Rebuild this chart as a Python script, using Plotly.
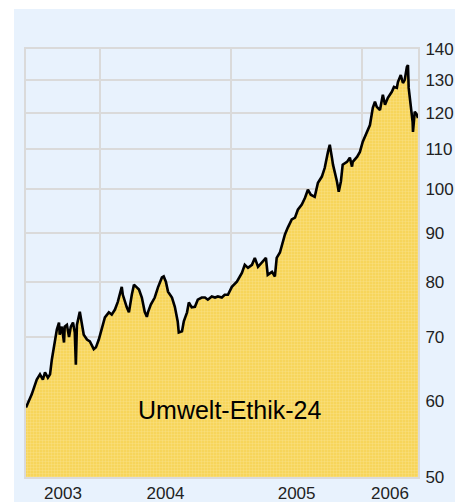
import math
import pandas as pd
import plotly.graph_objects as go

dates = [
    "2003-06-09", "2003-06-17", "2003-06-25", "2003-07-09", "2003-07-18", "2003-07-26",
    "2003-08-01", "2003-08-09", "2003-08-15", "2003-08-20", "2003-08-26", "2003-09-03",
    "2003-09-09", "2003-09-11", "2003-09-17", "2003-09-23", "2003-09-25", "2003-10-01",
    "2003-10-07", "2003-10-12", "2003-10-18", "2003-10-23", "2003-10-26", "2003-10-29",
    "2003-11-06", "2003-11-12", "2003-11-17", "2003-11-26", "2003-12-04", "2003-12-15",
    "2003-12-21", "2003-12-29", "2004-01-07", "2004-01-15", "2004-01-26", "2004-02-03",
    "2004-02-12", "2004-02-20", "2004-03-02", "2004-03-05", "2004-03-16", "2004-03-22",
    "2004-03-30", "2004-04-05", "2004-04-13", "2004-04-19", "2004-04-27", "2004-05-05",
    "2004-05-11", "2004-05-14", "2004-05-22", "2004-06-02", "2004-06-11", "2004-06-22",
    "2004-06-27", "2004-07-03", "2004-07-09", "2004-07-20", "2004-07-28", "2004-08-05",
    "2004-08-08", "2004-08-17", "2004-08-22", "2004-08-31", "2004-09-05", "2004-09-13",
    "2004-09-22", "2004-09-30", "2004-10-11", "2004-10-20", "2004-10-28", "2004-11-08",
    "2004-11-17", "2004-11-25", "2004-12-06", "2004-12-14", "2004-12-23", "2005-01-03",
    "2005-01-17", "2005-01-31", "2005-02-08", "2005-02-17", "2005-02-28", "2005-03-08",
    "2005-03-17", "2005-03-28", "2005-04-08", "2005-04-13", "2005-04-25", "2005-05-03",
    "2005-05-08", "2005-05-17", "2005-05-25", "2005-05-31", "2005-06-08", "2005-06-19",
    "2005-06-28", "2005-07-06", "2005-07-17", "2005-07-26", "2005-08-03", "2005-08-11",
    "2005-08-22", "2005-08-31", "2005-09-11", "2005-09-19", "2005-09-28", "2005-10-03",
    "2005-10-09", "2005-10-12", "2005-10-23", "2005-10-28", "2005-11-03", "2005-11-08",
    "2005-11-20", "2005-11-28", "2005-12-04", "2005-12-06", "2005-12-18", "2005-12-26",
    "2006-01-03", "2006-01-14", "2006-01-23", "2006-01-31", "2006-02-06", "2006-02-11",
    "2006-02-20", "2006-02-28", "2006-03-06", "2006-03-14", "2006-03-25", "2006-03-31",
    "2006-04-08", "2006-04-11", "2006-04-19", "2006-04-25", "2006-04-30", "2006-05-06",
    "2006-05-09", "2006-05-11", "2006-05-17", "2006-05-22", "2006-05-23", "2006-05-28",
    "2006-06-03", "2006-06-06",
]

values = [
    59.1, 60.0, 61.0, 63.2, 64.0, 63.2,
    64.3, 63.5, 64.0, 66.3, 68.5, 71.3,
    72.5, 70.4, 71.8, 69.1, 71.8, 72.1,
    70.0, 71.8, 72.5, 70.8, 65.5, 72.1,
    74.4, 72.5, 70.4, 69.6, 69.3, 68.0,
    68.3, 69.6, 71.8, 73.4, 74.3, 73.9,
    74.8, 76.2, 79.0, 77.5, 75.2, 74.3,
    77.5, 79.4, 78.9, 78.5, 77.0, 74.4,
    73.5, 74.3, 75.7, 77.0, 78.9, 80.8,
    81.0, 80.0, 78.1, 77.0, 75.3, 72.7,
    70.8, 71.0, 72.7, 74.3, 76.1, 75.2,
    75.3, 76.6, 77.0, 77.0, 76.6, 77.2,
    77.0, 77.2, 77.0, 77.5, 77.5, 79.0,
    80.0, 81.7, 83.3, 82.7, 83.3, 84.7,
    82.9, 83.7, 84.7, 81.3, 81.9, 81.0,
    84.7, 85.8, 87.9, 89.6, 91.1, 92.9,
    93.3, 95.1, 96.3, 97.9, 99.8, 98.6,
    98.1, 101.5, 103.0, 105.2, 109.3, 111.2,
    107.8, 106.0, 101.8, 99.3, 101.8, 106.0,
    106.7, 107.8, 105.5, 106.7, 108.0, 109.3,
    112.0, 114.7, 116.6, 121.5, 123.3, 121.8,
    120.9, 125.4, 122.4, 124.5, 126.3, 127.8,
    127.5, 129.3, 131.5, 129.0, 130.0, 134.1,
    134.7, 127.5, 122.4, 117.5, 114.7, 120.4,
    119.5, 118.6,
]

year_labels = ["2003", "2004", "2005", "2006"]
y_ticks = [50, 60, 70, 80, 90, 100, 110, 120, 130, 140]
title_text = "Umwelt-Ethik-24"

d = pd.to_datetime(dates)
start, end = d.min(), d.max()
bounds = [pd.Timestamp(f"{y}-01-01") for y in year_labels[1:]]
edges = [start] + bounds + [end]
mids = [edges[i] + (edges[i + 1] - edges[i]) / 2 for i in range(len(edges) - 1)]

fig = go.Figure()
fig.add_trace(go.Scatter(
    x=d, y=values, mode="lines",
    line=dict(color="#000000", width=2.6),
    fill="tozeroy",
    fillcolor="#f7d55c",
    fillpattern=dict(shape=".", bgcolor="#f6d150", fgcolor="#fbe9a4", size=3, solidity=0.5),
    hoverinfo="skip",
))

fig.add_shape(type="rect", xref="paper", yref="paper",
              x0=-0.0306, x1=1.0944, y0=-0.0584, y1=1.0935,
              fillcolor="#e8f2fd", line=dict(width=0), layer="below")

fig.add_annotation(text=title_text, xref="paper", yref="paper", x=0.52, y=0.1565,
                   xanchor="center", yanchor="middle",
                   showarrow=False, font=dict(family="Liberation Sans, Arial", size=25, color="#000000"))

fig.update_layout(
    width=459, height=502,
    margin=dict(l=26, r=41, t=49, b=25),
    paper_bgcolor="#ffffff",
    plot_bgcolor="rgba(0,0,0,0)",
    showlegend=False,
    font=dict(family="Liberation Sans, Arial", size=17, color="#222222"),
)
fig.update_xaxes(
    range=[start, end], automargin=False,
    tickmode="array", tickvals=mids, ticktext=year_labels,
    showgrid=False, zeroline=False,
    ticks="", ticklen=0,
    showline=True, mirror=True, linecolor="#dadada", linewidth=2,
    minor=dict(tickmode="array", tickvals=bounds, showgrid=True, gridcolor="#dadada", gridwidth=2, ticks=""),
)
fig.update_yaxes(
    type="log", side="right", automargin=False,
    range=[math.log10(50), math.log10(140)],
    tickmode="array", tickvals=y_ticks, ticktext=[str(v) for v in y_ticks],
    showgrid=True, gridcolor="#dadada", gridwidth=2, zeroline=False,
    showline=True, mirror=True, linecolor="#dadada", linewidth=2,
    ticks="outside", ticklen=2, tickcolor="rgba(0,0,0,0)",
)

fig.write_html("out.html")
